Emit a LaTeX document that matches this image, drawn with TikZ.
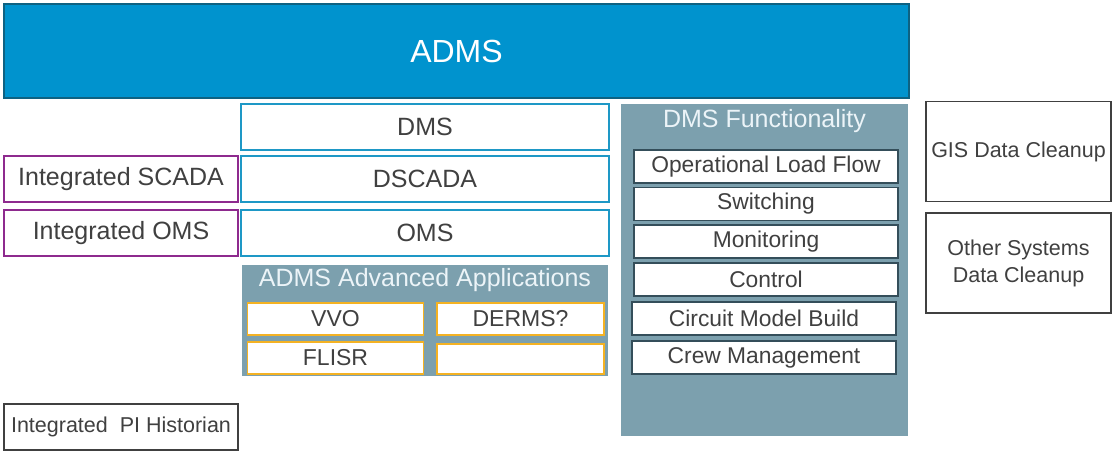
\documentclass[tikz,border=0pt]{standalone}
\usepackage{fontspec}
\setmainfont{Liberation Sans}
\usetikzlibrary{positioning}

\definecolor{admsblue}{RGB}{0,147,206}
\definecolor{admsedge}{RGB}{14,98,130}
\definecolor{dmsblue}{RGB}{30,152,198}
\definecolor{intpurple}{RGB}{142,42,142}
\definecolor{panelgray}{RGB}{124,160,174}
\definecolor{itemedge}{RGB}{52,78,90}
\definecolor{apporange}{RGB}{244,178,35}
\definecolor{txtgray}{RGB}{64,64,64}
\definecolor{paneltxt}{RGB}{236,244,248}

\begin{document}
\begin{tikzpicture}
	[x=1pt,y=-1pt,inner sep=0pt,line width=1.6pt,text=txtgray,
	 font=\fontsize{25}{29}\selectfont,]
	\tikzstyle{admsbar}=[draw=admsedge, fill=admsblue, minimum width=905pt, minimum height=94pt, text=white, font=\fontsize{32}{36}\selectfont];
	\tikzstyle{dmsbox}=[draw=dmsblue, fill=white, minimum width=368pt, minimum height=46pt];
	\tikzstyle{intbox}=[draw=intpurple, fill=white, minimum width=234pt, minimum height=46pt];
	\tikzstyle{panel}=[fill=panelgray, text=paneltxt];
	\tikzstyle{appbox}=[draw=apporange, fill=white, minimum height=32pt, font=\fontsize{23}{27}\selectfont];
	\tikzstyle{funcbox}=[draw=itemedge, fill=white, minimum width=264pt, minimum height=33pt, font=\fontsize{22.8}{26}\selectfont];
	\tikzstyle{sidebox}=[draw=txtgray, fill=white, minimum width=185pt, minimum height=100pt, align=center, font=\fontsize{21.5}{27}\selectfont];

	\useasboundingbox (0,0) rectangle (1113,453);

	% top bar
	\node[admsbar] (ADMS) at (456.5,51) {ADMS};

	% DMS column
	\node[dmsbox] (DMS) at (425,127) {DMS};
	\node[dmsbox] (DSCADA) at (425,179) {DSCADA};
	\node[dmsbox] (OMS) at (425,233) {OMS};

	\node[intbox] (IntSCADA) at (121,179) {Integrated SCADA};
	\node[intbox] (IntOMS) at (121,233) {Integrated OMS};

	% advanced applications
	\node[panel, minimum width=366pt, minimum height=111pt] (AdvPanel) at (425,320.5) {};
	\node[text=paneltxt] (AdvTitle) at (425,280) {ADMS Advanced Applications};
	\node[appbox, minimum width=176pt] (VVO) at (335.5,319) {VVO};
	\node[appbox, minimum width=167pt] (DERMS) at (520.5,319) {DERMS?};
	\node[appbox, minimum width=176pt] (FLISR) at (335.5,358) {FLISR};
	\node[appbox, minimum width=167pt, minimum height=30pt] (Spare) at (520.5,359) {};

	% DMS functionality
	\node[panel, minimum width=287pt, minimum height=332pt] (FuncPanel) at (764.5,270) {};
	\node[text=paneltxt] (FuncTitle) at (764.5,121) {DMS Functionality};
	\node[funcbox] (LoadFlow) at (766,166.5) {Operational Load Flow};
	\node[funcbox] (Switching) at (766,204) {Switching};
	\node[funcbox] (Monitoring) at (766,241.5) {Monitoring};
	\node[funcbox] (Control) at (766,279.5) {Control};
	\node[funcbox] (ModelBuild) at (764,318.5) {Circuit Model Build};
	\node[funcbox] (Crew) at (764,357.5) {Crew Management};

	% data cleanup
	\node[sidebox] (GIS) at (1018.5,151.5) {GIS Data Cleanup};
	\node[sidebox] (Other) at (1018.5,263) {Other Systems\\Data Cleanup};

	\node[intbox, draw=txtgray, font=\fontsize{21.5}{26}\selectfont] (PI) at (121,427) {Integrated~~PI Historian};

\end{tikzpicture}
\end{document}
